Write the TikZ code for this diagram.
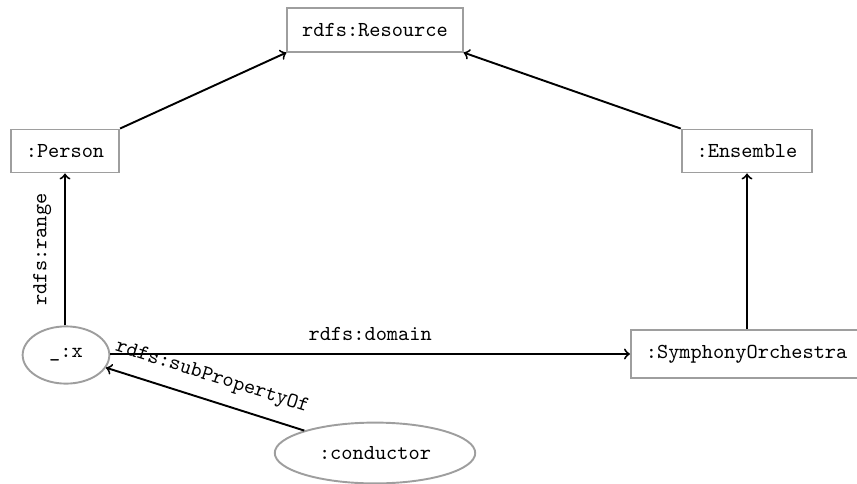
\documentclass[tikz,border=0pt]{standalone}
\usetikzlibrary{shapes.geometric}
\begin{document}
\begin{tikzpicture}[x=0.469pt,y=-0.469pt,
  cls/.style={draw=black!38,line width=0.9pt,rectangle,inner sep=7pt,font=\ttfamily},
  res/.style={draw=black!38,line width=0.9pt,ellipse,inner sep=6.5pt,font=\ttfamily},
  rel/.style={->,line width=0.9pt},
  lbl/.style={font=\ttfamily,inner sep=6pt}]
\useasboundingbox (0,0) rectangle (857,483);
\node[cls] (resource) at (375,30) {rdfs:Resource};
\node[cls] (person) at (65,151) {:Person};
\node[cls] (ensemble) at (747,151) {:Ensemble};
\node[res] (x) at (66,355) {\_:x};
\node[cls,anchor=west] (orch) at (630,354) {:SymphonyOrchestra};
\node[res,inner sep=7pt] (cond) at (375,453) {:conductor};
\draw[rel] (person.north east) -- (resource.south west);
\draw[rel] (ensemble.north west) -- (resource.south east);
\draw[rel] (orch.north -| ensemble) -- (ensemble.south);
\draw[rel] (x.north -| person) -- node[lbl,midway,above,sloped] {rdfs:range} (person.south);
\draw[rel] (x.east |- orch) -- node[lbl,midway,above] {rdfs:domain} (orch.west);
\draw[rel] (cond) -- node[lbl,midway,above,sloped] {rdfs:subPropertyOf} (x);
\end{tikzpicture}
\end{document}
